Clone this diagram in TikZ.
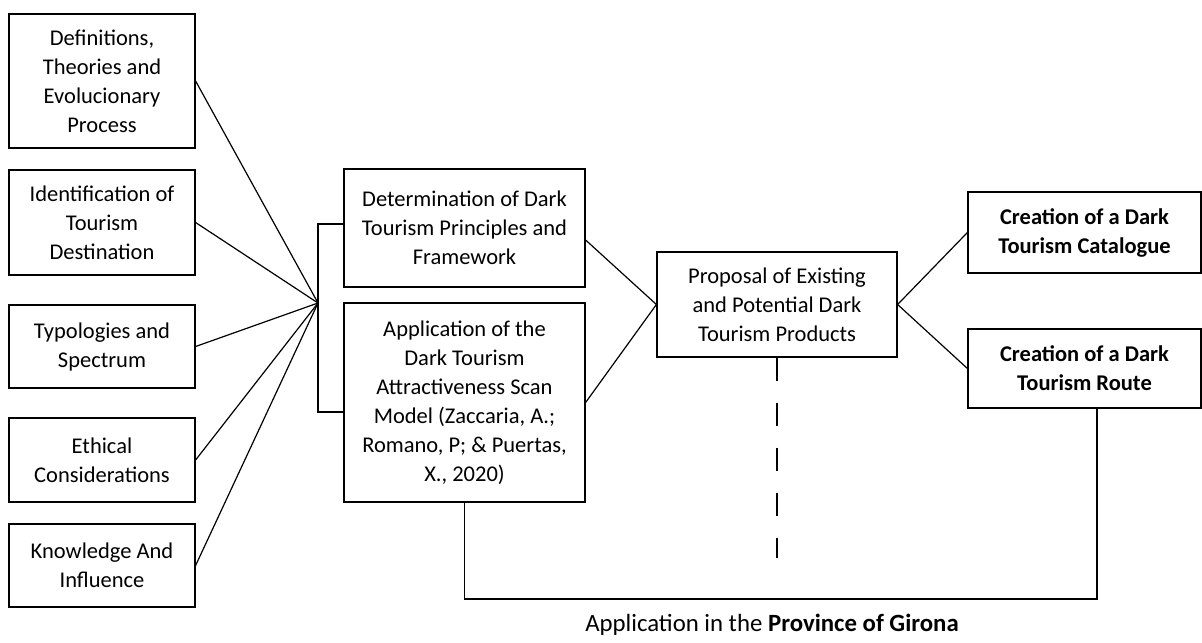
\documentclass[tikz,border=0pt]{standalone}
\usepackage{fontspec}
\setmainfont{Carlito}
\usetikzlibrary{positioning}
\tikzset{box/.style={rectangle, draw=black, align=center, inner sep=0pt, line width=0.6pt},link/.style={line width=0.6pt}}
\tikzstyle{leftbox}=[box,minimum width=93pt]
\tikzstyle{midbox}=[box,minimum width=120.5pt]
\tikzstyle{outbox}=[box,minimum width=116.5pt,font=\fontsize{11.25}{14.5}\selectfont\bfseries]

\begin{document}
\begin{tikzpicture}[x=0.5pt,y=-0.5pt,font=\fontsize{11.25}{14.5}\selectfont,link]
\useasboundingbox (0,0) rectangle (1202,642);

% left column
\node[leftbox,minimum height=67pt] (def) at (102,81) {Definitions,\\Theories and\\Evolucionary\\Process};
\node[leftbox,minimum height=52.5pt] (ident) at (102,222.5) {Identification of\\Tourism\\Destination};
\node[leftbox,minimum height=41.5pt] (typo) at (102,346.5) {Typologies and\\Spectrum};
\node[leftbox,minimum height=42pt] (ethic) at (102,460) {Ethical\\Considerations};
\node[leftbox,minimum height=41.5pt] (know) at (102,565.5) {Knowledge And\\Influence};

% middle
\node[midbox,minimum height=59pt] (det) at (464.5,228) {Determination of Dark\\Tourism Principles and\\Framework};
\node[midbox,minimum height=99.5pt] (scan) at (464.5,402.5) {Application of the\\Dark Tourism\\Attractiveness Scan\\Model (Zaccaria, A.;\\Romano, P; \& Puertas,\\X., 2020)};
\node[box,minimum width=120pt,minimum height=52.5pt] (prop) at (777,304.5) {Proposal of Existing\\and Potential Dark\\Tourism Products};

% right
\node[outbox,minimum height=40.5pt] (cat) at (1084.5,232.5) {Creation of a Dark\\Tourism Catalogue};
\node[outbox,minimum height=39.5pt] (route) at (1084.5,368.5) {Creation of a Dark\\Tourism Route};

\coordinate (fan) at (318,303);
\coordinate (bt) at (318,224);
\coordinate (bb) at (318,412);
\coordinate (rt) at (1097,599);

\foreach \n in {def,ident,typo,ethic,know}
  \draw (\n.east) -- (fan);
\draw (det.west |- bt) -- (bt) -- (bb) -- (scan.west |- bb);

\draw (det.east |- 0,240) -- (prop.west);
\draw (scan.east) -- (prop.west);
\draw (prop.east) -- (cat.west);
\draw (prop.east) -- (route.west);
\draw[dash pattern=on 11.5pt off 11pt] (prop.south) -- (prop.south |- 0,558);
\draw (scan.south) |- (rt) -- (route.south -| rt);

\node[font=\fontsize{12.4}{15}\selectfont] (girona) at (772,625) {Application in the \textbf{Province of Girona}};

\end{tikzpicture}
\end{document}
